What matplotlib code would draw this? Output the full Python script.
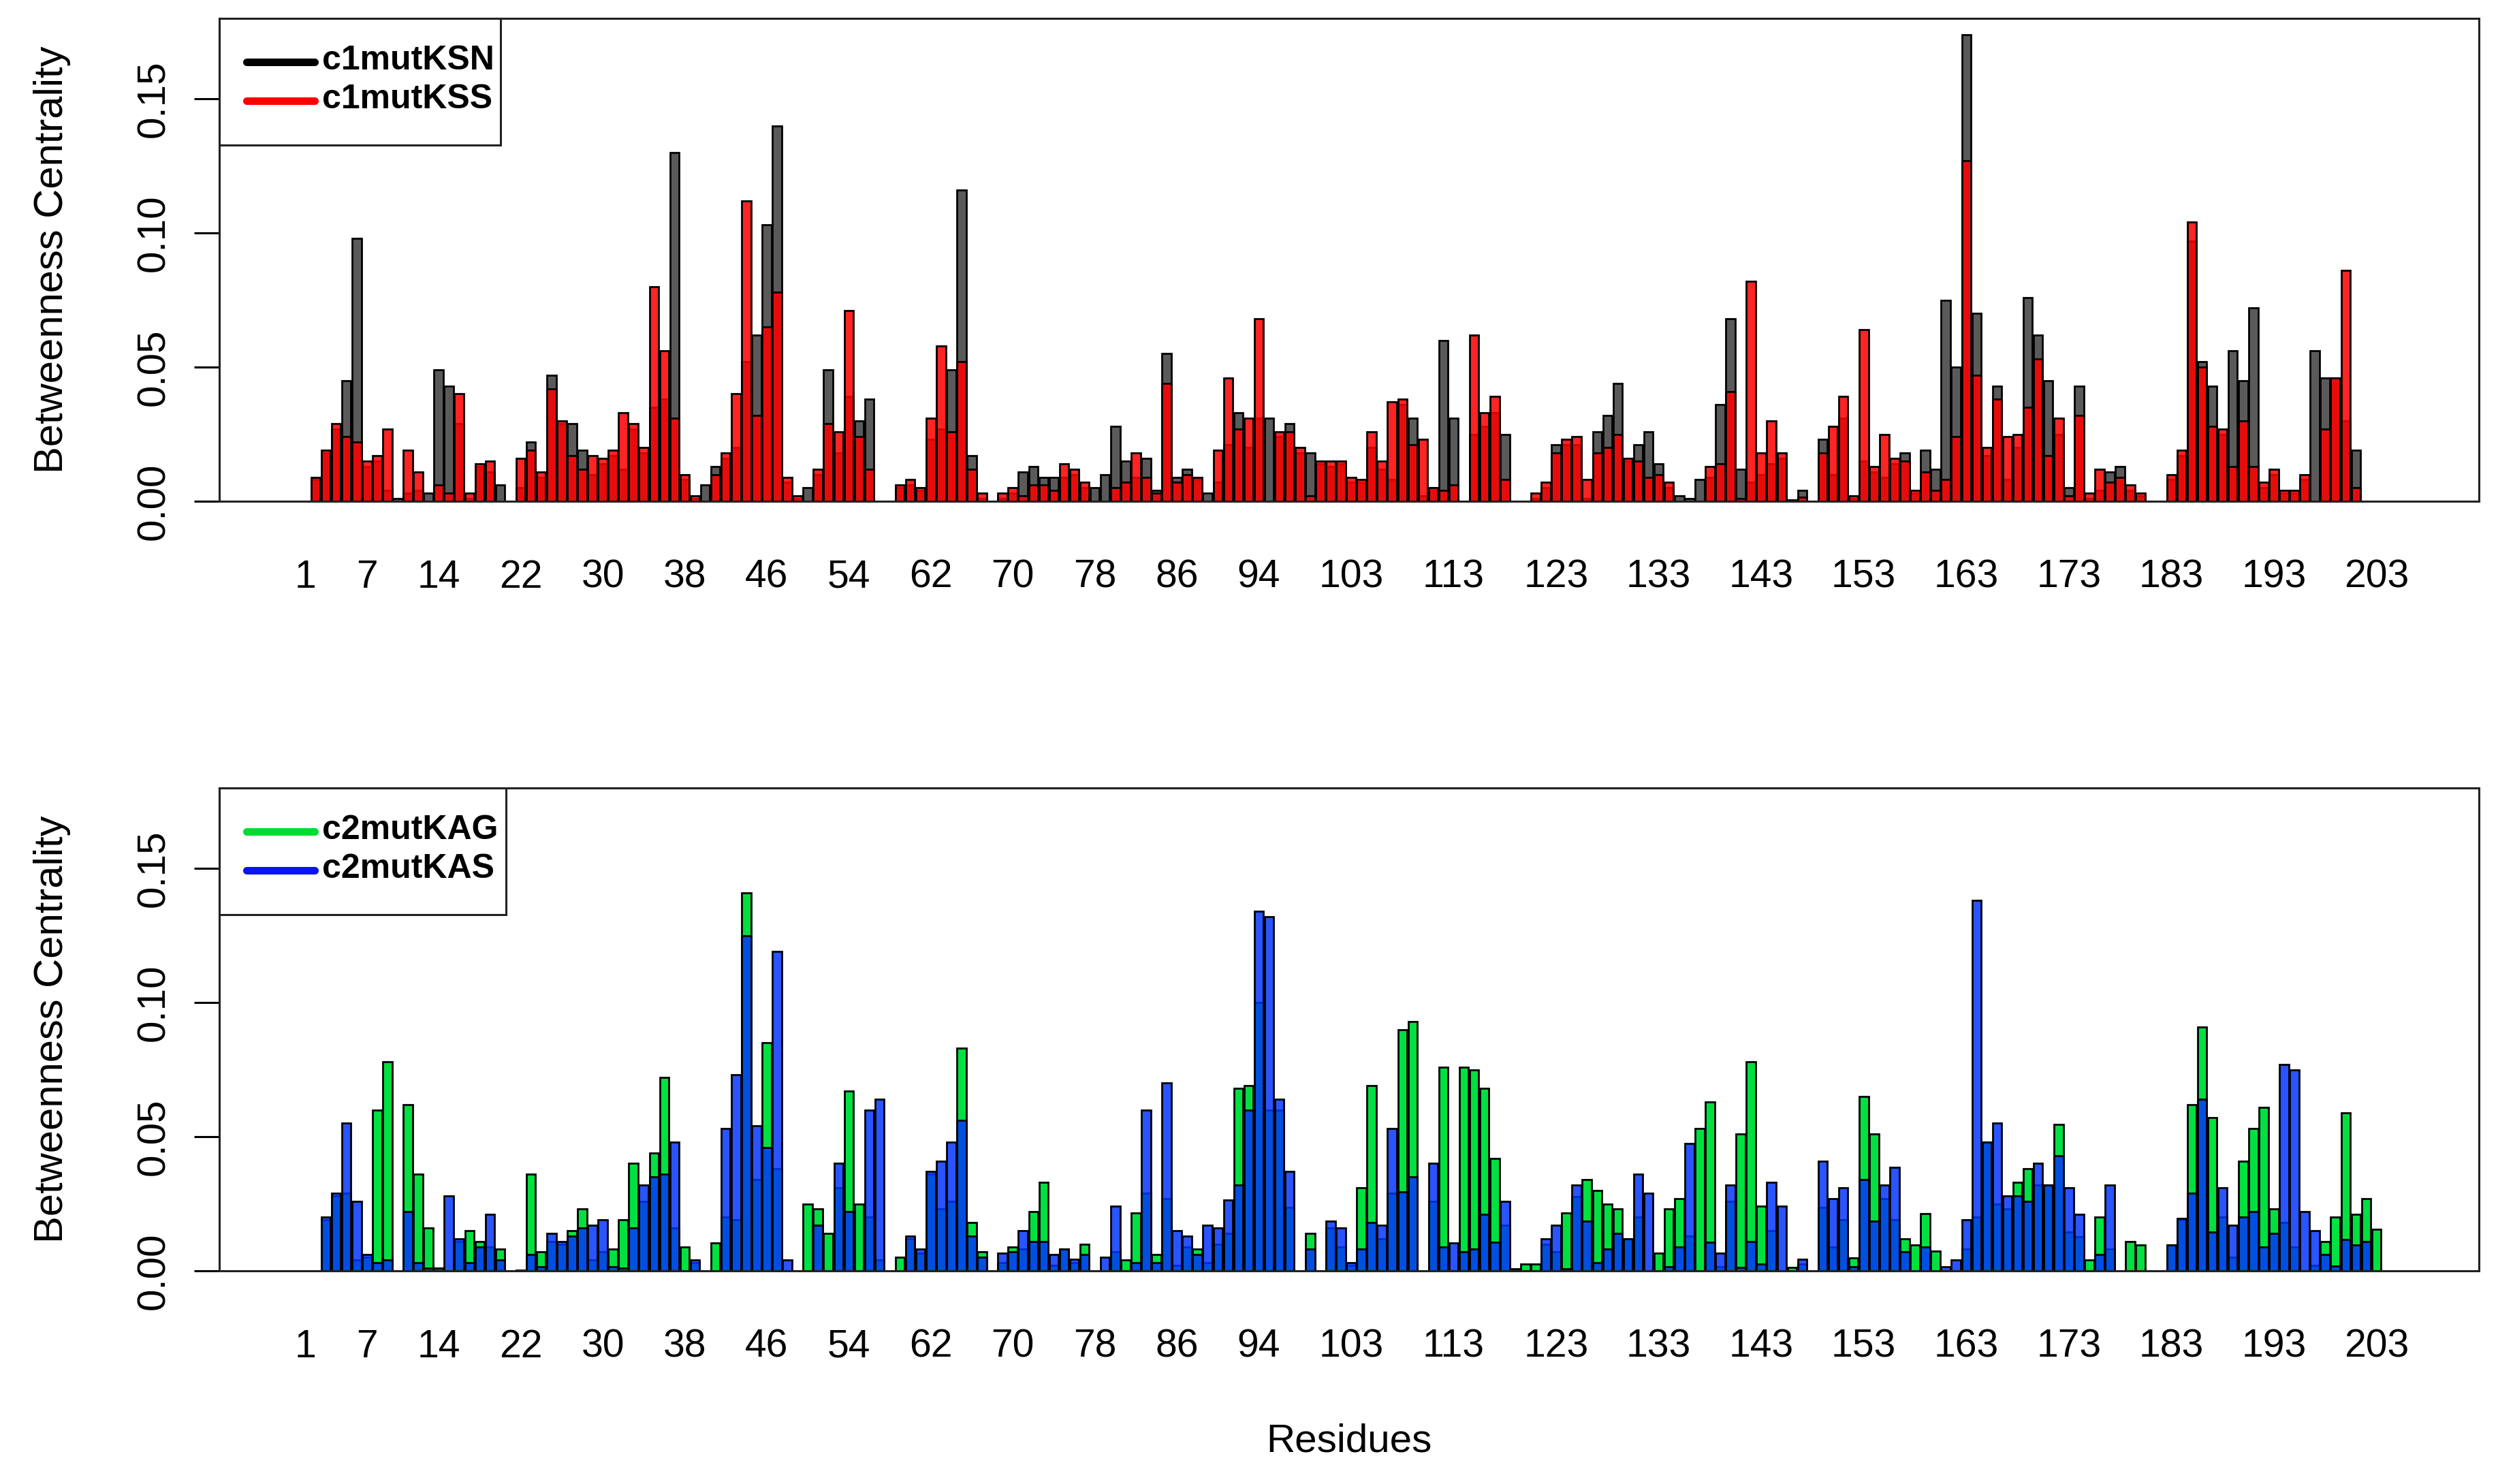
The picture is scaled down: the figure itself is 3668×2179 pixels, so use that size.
import numpy as np
import matplotlib
matplotlib.use("Agg")
import matplotlib.pyplot as plt
from matplotlib.patches import Rectangle

plt.rcParams['font.family'] = ['Liberation Sans', 'DejaVu Sans']

# residue numbers 1..203
residues = np.arange(1, 204)

# betweenness centrality (index 0 = residue 1)
c1mutKSN = [
    0.000, 0.008, 0.018, 0.027, 0.045, 0.098, 0.013, 0.015, 0.004, 0.001,
    0.003, 0.004, 0.003, 0.049, 0.043, 0.029, 0.001, 0.013, 0.011, 0.006,
    0.000, 0.005, 0.022, 0.009, 0.047, 0.029, 0.029, 0.019, 0.010, 0.014,
    0.017, 0.012, 0.027, 0.018, 0.035, 0.038, 0.130, 0.008, 0.001, 0.006,
    0.013, 0.016, 0.020, 0.052, 0.062, 0.103, 0.140, 0.007, 0.001, 0.005,
    0.010, 0.049, 0.018, 0.039, 0.030, 0.038, 0.000, 0.000, 0.005, 0.006,
    0.004, 0.023, 0.027, 0.049, 0.116, 0.017, 0.001, 0.000, 0.001, 0.003,
    0.011, 0.013, 0.009, 0.009, 0.009, 0.010, 0.005, 0.005, 0.010, 0.028,
    0.015, 0.009, 0.016, 0.004, 0.055, 0.009, 0.012, 0.008, 0.003, 0.007,
    0.021, 0.033, 0.020, 0.031, 0.031, 0.024, 0.029, 0.018, 0.018, 0.014,
    0.013, 0.014, 0.007, 0.007, 0.020, 0.012, 0.008, 0.036, 0.031, 0.002,
    0.005, 0.060, 0.031, 0.000, 0.025, 0.028, 0.033, 0.025, 0.000, 0.000,
    0.001, 0.005, 0.021, 0.021, 0.021, 0.001, 0.026, 0.032, 0.044, 0.015,
    0.021, 0.026, 0.014, 0.005, 0.002, 0.001, 0.008, 0.009, 0.036, 0.068,
    0.012, 0.007, 0.010, 0.014, 0.016, 0.0005, 0.004, 0.000, 0.023, 0.010,
    0.031, 0.001, 0.015, 0.011, 0.009, 0.014, 0.018, 0.003, 0.019, 0.012,
    0.075, 0.050, 0.174, 0.070, 0.017, 0.043, 0.008, 0.020, 0.076, 0.062,
    0.045, 0.025, 0.005, 0.043, 0.001, 0.004, 0.011, 0.013, 0.004, 0.002,
    0.000, 0.000, 0.008, 0.017, 0.097, 0.052, 0.043, 0.025, 0.056, 0.045,
    0.072, 0.005, 0.010, 0.003, 0.003, 0.008, 0.056, 0.046, 0.046, 0.030,
    0.019, 0.000, 0.000,
]
c1mutKSS = [
    0.000, 0.009, 0.019, 0.029, 0.024, 0.022, 0.015, 0.017, 0.027, 0.000,
    0.019, 0.011, 0.000, 0.006, 0.003, 0.040, 0.003, 0.014, 0.015, 0.000,
    0.000, 0.016, 0.019, 0.011, 0.042, 0.030, 0.017, 0.012, 0.017, 0.016,
    0.019, 0.033, 0.029, 0.020, 0.080, 0.056, 0.031, 0.010, 0.002, 0.000,
    0.010, 0.018, 0.040, 0.112, 0.032, 0.065, 0.078, 0.009, 0.002, 0.000,
    0.012, 0.029, 0.026, 0.071, 0.024, 0.012, 0.000, 0.000, 0.006, 0.008,
    0.005, 0.031, 0.058, 0.026, 0.052, 0.012, 0.003, 0.000, 0.003, 0.005,
    0.002, 0.006, 0.006, 0.004, 0.014, 0.012, 0.007, 0.000, 0.000, 0.005,
    0.007, 0.018, 0.009, 0.003, 0.044, 0.007, 0.010, 0.009, 0.000, 0.019,
    0.046, 0.027, 0.031, 0.068, 0.000, 0.026, 0.026, 0.020, 0.002, 0.015,
    0.015, 0.015, 0.009, 0.008, 0.026, 0.015, 0.037, 0.038, 0.021, 0.023,
    0.005, 0.004, 0.006, 0.000, 0.062, 0.033, 0.039, 0.008, 0.000, 0.000,
    0.003, 0.007, 0.018, 0.023, 0.024, 0.008, 0.018, 0.020, 0.025, 0.016,
    0.015, 0.009, 0.010, 0.007, 0.000, 0.000, 0.000, 0.013, 0.014, 0.041,
    0.001, 0.082, 0.018, 0.030, 0.018, 0.000, 0.0015, 0.000, 0.018, 0.028,
    0.039, 0.002, 0.064, 0.013, 0.025, 0.016, 0.015, 0.004, 0.011, 0.004,
    0.008, 0.024, 0.127, 0.047, 0.020, 0.038, 0.024, 0.025, 0.035, 0.053,
    0.017, 0.031, 0.002, 0.032, 0.003, 0.012, 0.007, 0.009, 0.006, 0.003,
    0.000, 0.000, 0.010, 0.019, 0.104, 0.050, 0.028, 0.027, 0.013, 0.030,
    0.013, 0.007, 0.012, 0.004, 0.004, 0.010, 0.000, 0.027, 0.046, 0.086,
    0.005, 0.000, 0.000,
]
c2mutKAG = [
    0.000, 0.000, 0.019, 0.028, 0.029, 0.004, 0.005, 0.060, 0.078, 0.000,
    0.062, 0.036, 0.016, 0.001, 0.000, 0.011, 0.015, 0.011, 0.009, 0.008,
    0.000, 0.000, 0.036, 0.007, 0.011, 0.010, 0.015, 0.023, 0.004, 0.007,
    0.008, 0.019, 0.040, 0.026, 0.044, 0.072, 0.016, 0.009, 0.003, 0.000,
    0.0105, 0.020, 0.019, 0.141, 0.034, 0.085, 0.038, 0.000, 0.000, 0.025,
    0.023, 0.014, 0.031, 0.067, 0.025, 0.020, 0.004, 0.000, 0.005, 0.012,
    0.0065, 0.036, 0.023, 0.026, 0.083, 0.018, 0.007, 0.000, 0.003, 0.009,
    0.008, 0.022, 0.033, 0.002, 0.008, 0.003, 0.010, 0.000, 0.000, 0.007,
    0.004, 0.0215, 0.029, 0.006, 0.027, 0.002, 0.009, 0.008, 0.003, 0.010,
    0.014, 0.068, 0.069, 0.100, 0.060, 0.060, 0.0235, 0.000, 0.014, 0.000,
    0.016, 0.009, 0.002, 0.031, 0.069, 0.012, 0.029, 0.090, 0.093, 0.000,
    0.026, 0.076, 0.000, 0.076, 0.075, 0.068, 0.042, 0.017, 0.0007, 0.0026,
    0.0026, 0.010, 0.007, 0.0215, 0.0276, 0.034, 0.030, 0.025, 0.023, 0.012,
    0.020, 0.000, 0.0065, 0.023, 0.027, 0.013, 0.053, 0.063, 0.0015, 0.026,
    0.051, 0.078, 0.024, 0.015, 0.000, 0.0012, 0.0026, 0.000, 0.0235, 0.009,
    0.019, 0.0047, 0.065, 0.051, 0.027, 0.019, 0.012, 0.0097, 0.0214, 0.0073,
    0.000, 0.000, 0.008, 0.020, 0.048, 0.025, 0.023, 0.033, 0.038, 0.032,
    0.032, 0.0545, 0.0145, 0.0126, 0.004, 0.020, 0.008, 0.000, 0.011, 0.0097,
    0.000, 0.000, 0.0097, 0.019, 0.062, 0.091, 0.057, 0.020, 0.005, 0.041,
    0.053, 0.061, 0.023, 0.018, 0.009, 0.000, 0.002, 0.011, 0.020, 0.059,
    0.021, 0.027, 0.0156,
]
c2mutKAS = [
    0.000, 0.000, 0.020, 0.029, 0.055, 0.026, 0.006, 0.003, 0.004, 0.000,
    0.022, 0.003, 0.001, 0.001, 0.028, 0.012, 0.003, 0.009, 0.021, 0.004,
    0.000, 0.0003, 0.006, 0.0015, 0.014, 0.011, 0.013, 0.016, 0.017, 0.019,
    0.0015, 0.001, 0.016, 0.032, 0.035, 0.036, 0.048, 0.000, 0.004, 0.000,
    0.000, 0.053, 0.073, 0.125, 0.054, 0.046, 0.119, 0.004, 0.000, 0.000,
    0.017, 0.000, 0.040, 0.022, 0.000, 0.060, 0.064, 0.000, 0.000, 0.013,
    0.008, 0.037, 0.041, 0.048, 0.056, 0.013, 0.005, 0.000, 0.0065, 0.007,
    0.015, 0.011, 0.011, 0.006, 0.008, 0.0044, 0.006, 0.000, 0.005, 0.024,
    0.000, 0.003, 0.060, 0.003, 0.070, 0.015, 0.013, 0.006, 0.017, 0.016,
    0.0265, 0.032, 0.060, 0.134, 0.132, 0.064, 0.037, 0.000, 0.008, 0.000,
    0.0185, 0.016, 0.003, 0.008, 0.018, 0.017, 0.053, 0.0295, 0.035, 0.000,
    0.040, 0.009, 0.0105, 0.007, 0.008, 0.021, 0.0106, 0.026, 0.000, 0.000,
    0.000, 0.012, 0.017, 0.0007, 0.032, 0.0185, 0.003, 0.008, 0.014, 0.012,
    0.036, 0.029, 0.000, 0.0015, 0.009, 0.0475, 0.000, 0.0106, 0.0065, 0.032,
    0.0012, 0.011, 0.0026, 0.033, 0.024, 0.000, 0.0044, 0.000, 0.041, 0.027,
    0.031, 0.0015, 0.034, 0.0185, 0.032, 0.0385, 0.007, 0.000, 0.009, 0.000,
    0.0015, 0.004, 0.019, 0.138, 0.048, 0.055, 0.028, 0.028, 0.026, 0.040,
    0.032, 0.043, 0.031, 0.021, 0.000, 0.006, 0.032, 0.000, 0.000, 0.000,
    0.000, 0.000, 0.0097, 0.0196, 0.029, 0.064, 0.0145, 0.031, 0.017, 0.020,
    0.022, 0.009, 0.014, 0.077, 0.075, 0.022, 0.015, 0.006, 0.0017, 0.0116,
    0.0097, 0.011, 0.000,
]

xtick_res = [1, 7, 14, 22, 30, 38, 46, 54, 62, 70, 78, 86, 94, 103, 113,
             123, 133, 143, 153, 163, 173, 183, 193, 203]
ytick_vals = [0.00, 0.05, 0.10, 0.15]

W, H = 3668, 2179
fig = plt.figure(figsize=(W / 100, H / 100), dpi=100)

ax1 = fig.add_axes([322 / W, 1 - 736 / H, 3318 / W, 709 / H])
ax2 = fig.add_axes([322 / W, 1 - 1866 / H, 3318 / W, 709 / H])

bar_w = 0.9
edge_lw = 2.0

# top panel: c1mutKSN behind, c1mutKSS in front
ax1.bar(residues, c1mutKSN, width=bar_w, color='#5a5a5a',
        edgecolor='black', linewidth=edge_lw)
ax1.bar(residues, c1mutKSS, width=bar_w, color=(1.0, 0.0, 0.0, 0.86),
        edgecolor='black', linewidth=edge_lw)

# bottom panel: c2mutKAG behind, c2mutKAS in front
ax2.bar(residues, c2mutKAG, width=bar_w, color='#00e040',
        edgecolor='black', linewidth=edge_lw)
ax2.bar(residues, c2mutKAS, width=bar_w, color=(0.0, 0.2, 1.0, 0.84),
        edgecolor='black', linewidth=edge_lw)

for ax in (ax1, ax2):
    ax.set_xlim(-7.4, 213.0)
    ax.set_ylim(0, 0.18)
    ax.set_xticks(xtick_res)
    ax.set_xticklabels([str(r) for r in xtick_res], fontsize=41)
    ax.tick_params(axis='x', length=0, pad=61)
    ax.set_yticks(ytick_vals)
    ax.set_yticklabels(['%.2f' % v for v in ytick_vals], fontsize=42,
                       rotation=90, va='center')
    ax.tick_params(axis='y', length=26.6, width=2.2, pad=23)
    for sp in ax.spines.values():
        sp.set_linewidth(2.2)
        sp.set_color('#222222')

    # y label
    pos = ax.get_position()
    fig.text(77 / W, pos.y0 + pos.height / 2, 'Betweenness Centrality',
             rotation=90, ha='center', va='center', fontsize=43)


def draw_legend(ax, names, colors, x_right, y_bottom):
    ax.add_patch(Rectangle((0, y_bottom), x_right, 1 - y_bottom,
                           transform=ax.transAxes, facecolor='white',
                           edgecolor='#222222', linewidth=2.2, zorder=5,
                           clip_on=False))
    rows = [0.9126, 0.832]
    for name, col, yy in zip(names, colors, rows):
        ax.plot([0.0121, 0.0422], [yy - 0.003, yy - 0.003], color=col,
                linewidth=8, solid_capstyle='round',
                transform=ax.transAxes, zorder=6)
        ax.text(0.0455, yy, name, transform=ax.transAxes, fontsize=36,
                fontweight='bold', ha='left', va='center', zorder=6)


draw_legend(ax1, ['c1mutKSN', 'c1mutKSS'], ['black', '#ff0000'], 0.1245, 0.7377)
draw_legend(ax2, ['c2mutKAG', 'c2mutKAS'], ['#00dd30', '#0a14f0'], 0.1268, 0.737)

fig.text(1981 / W, 1 - 2116 / H, 'Residues', ha='center', va='center',
         fontsize=42)

fig.savefig('out.png', dpi=100)
